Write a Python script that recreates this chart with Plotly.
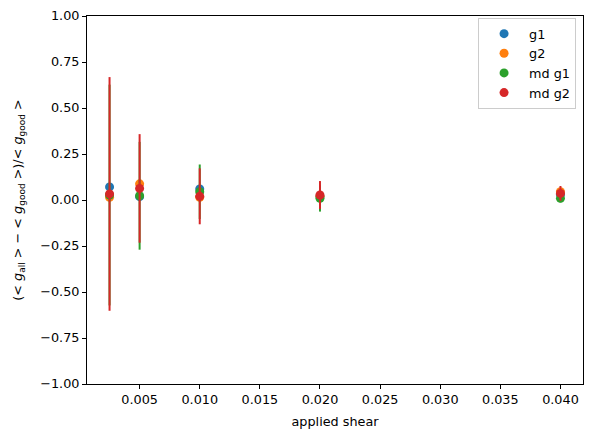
import plotly.graph_objects as go

# applied shear values
shear = [0.0025, 0.005, 0.01, 0.02, 0.04]

# fractional difference (<g_all> - <g_good>) / <g_good>
g1 = [0.071, 0.018, 0.060, 0.020, 0.030]
g1_err = [0.010, 0.010, 0.010, 0.010, 0.010]
g2 = [0.015, 0.088, 0.015, 0.020, 0.045]
g2_err = [0.015, 0.015, 0.015, 0.015, 0.015]
md_g1 = [0.027, 0.023, 0.045, 0.009, 0.009]
md_g1_err = [0.600, 0.293, 0.148, 0.072, 0.022]
md_g2 = [0.033, 0.063, 0.020, 0.027, 0.036]
md_g2_err = [0.635, 0.295, 0.152, 0.076, 0.040]

series = [
    ('g1', g1, g1_err, '#1f77b4'),
    ('g2', g2, g2_err, '#ff7f0e'),
    ('md g1', md_g1, md_g1_err, '#2ca02c'),
    ('md g2', md_g2, md_g2_err, '#d62728'),
]

fig = go.Figure()
for name, vals, errs, color in series:
    fig.add_trace(go.Scatter(
        x=shear, y=vals, mode='markers', name=name,
        marker=dict(color=color, size=9),
        error_y=dict(type='data', array=errs, visible=True,
                     color=color, thickness=2, width=0),
    ))

axis_common = dict(
    showline=True, mirror=True, linecolor='black', linewidth=1,
    ticks='outside', ticklen=4, tickcolor='black',
    showgrid=False, zeroline=False, automargin=False,
    tickfont=dict(size=12.8, color='black'),
)

# the page body has an 8px margin, so the figure is shrunk by that much
fig.update_layout(
    width=584, height=430,
    margin=dict(l=79, r=9, t=8, b=54),
    paper_bgcolor='white', plot_bgcolor='white',
    font=dict(family='DejaVu Sans', size=12.8, color='black'),
    xaxis=dict(
        range=[0.000625, 0.041875], tickvals=[0.005 * i for i in range(1, 9)],
        tickformat='.3f',
        title=dict(text='applied shear', font=dict(size=12.8), standoff=10),
        **axis_common
    ),
    yaxis=dict(
        range=[-1, 1], dtick=0.25, tickformat='.2f',
        title=dict(
            text='(&lt; <i>g</i><sub>all</sub> &gt; − &lt; <i>g</i><sub>good</sub> &gt;)/&lt; <i>g</i><sub>good</sub> &gt;',
            font=dict(size=12.8), standoff=14),
        **axis_common
    ),
    legend=dict(
        x=0.986, y=0.995, xanchor='right', yanchor='top',
        bgcolor='rgba(255,255,255,0.8)', bordercolor='#cccccc', borderwidth=1,
        font=dict(size=12.8), itemwidth=40,
    ),
)

fig.write_html("out.html")
